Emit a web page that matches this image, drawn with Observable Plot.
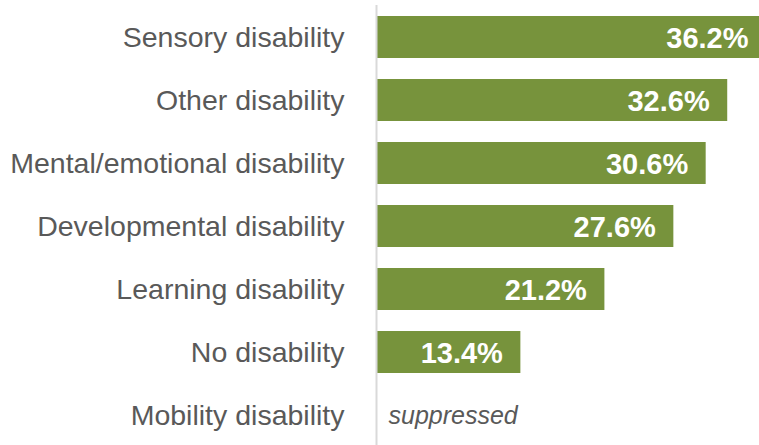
<!DOCTYPE html>
<html>
<head>
<meta charset="utf-8">
<script src="https://cdn.jsdelivr.net/npm/d3@7"></script>
<script src="https://cdn.jsdelivr.net/npm/@observablehq/plot@0.6"></script>
<style>
  html, body { margin: 0; padding: 0; background: #fff; }
  #chart { width: 759px; height: 445px; overflow: hidden; }
</style>
</head>
<body>
<div id="chart"></div>
<script>
const categories = ["Sensory disability", "Other disability", "Mental/emotional disability", "Developmental disability", "Learning disability", "No disability", "Mobility disability"];
const values = [36.2, 32.6, 30.6, 27.6, 21.2, 13.4, null];
const valueLabels = ["36.2%", "32.6%", "30.6%", "27.6%", "21.2%", "13.4%", ""];
const notes = ["", "", "", "", "", "", "suppressed"];

const data = categories.map((c, i) => ({category: c, value: values[i], label: valueLabels[i], note: notes[i]}));
const barData = data.filter(d => d.value != null);

const FONT = '"Liberation Sans", Arial, sans-serif';

const chart = Plot.plot({
  width: 759,
  height: 445,
  marginLeft: 376,
  marginRight: 0,
  marginTop: 5,
  marginBottom: 0,
  style: {fontFamily: FONT, background: "#fff", overflow: "hidden"},
  x: {domain: [0, 35.55], axis: null},
  y: {domain: categories, range: [16, 441], paddingInner: 0.333, paddingOuter: 0, align: 0, label: null},
  marks: [
    Plot.barX(barData, {x: "value", y: "category", fill: "#77933C", clip: true}),
    Plot.ruleX([0], {stroke: "#d9d9d9", strokeWidth: 2}),
    Plot.text(barData, {x: "value", y: "category", text: "label", textAnchor: "end", dx: -18, dy: 1, fill: "#fff", fontSize: 29, fontWeight: "bold", fontFamily: FONT}),
    Plot.text(data.filter(d => d.note), {x: 0, y: "category", text: "note", textAnchor: "start", dx: 12, fill: "#595959", fontSize: 25, fontStyle: "italic", fontFamily: FONT}),
    Plot.axisY({tickSize: 0, tickPadding: 32, fontSize: 28.5, fill: "#595959", label: null, fontFamily: FONT})
  ]
});
document.getElementById("chart").appendChild(chart);
</script>
</body>
</html>
